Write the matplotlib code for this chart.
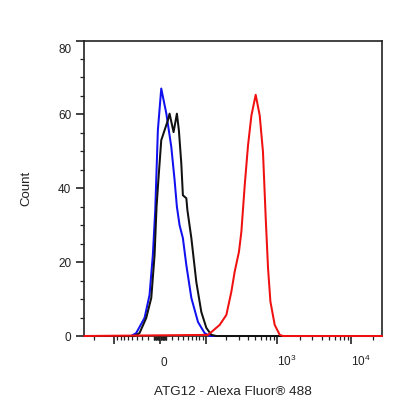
import numpy as np
import matplotlib
matplotlib.use("Agg")
import matplotlib.pyplot as plt
import matplotlib.transforms as mtransforms
from matplotlib.ticker import FixedLocator, FixedFormatter, NullFormatter

plt.rcParams['font.family'] = ['Liberation Sans', 'DejaVu Sans']
plt.rcParams['mathtext.fontset'] = 'custom'
plt.rcParams['mathtext.rm'] = 'Liberation Sans'

# --- histogram traces (channel value, count) ---
blue_x = [-269, -52.6, -41.7, -25.7, -17.1, -11.6, -7.7, -6.1, -3.5, 1.9, 10.0,
          18.3, 24.0, 28.1, 33.1, 39.6, 46.8, 58.3, 75.7, 96.3, 115.0, 26300]
blue_y = [0, 0, 0.8, 4.9, 11.1, 21.9, 34.1, 42.2, 55.7, 67.0, 60.3,
          51.2, 42.2, 35.0, 30.0, 26.5, 19.2, 10.3, 3.8, 0.8, 0, 0]

black_x = [-269, -45.2, -35.0, -22.7, -14.2, -8.8, -5.6, -2.7, 1.9, 7.2, 12.6,
           15.4, 22.2, 28.1, 31.8, 36.4, 39.6, 46.8, 49.1, 58.3, 71.1, 85.7,
           102.5, 121.5, 143.8, 26300]
black_y = [0, 0, 0.8, 4.9, 10.3, 21.9, 35.0, 42.2, 53.0, 55.7, 58.4,
           60.2, 55.2, 60.2, 55.7, 46.8, 38.1, 37.3, 34.1, 26.5, 14.6, 6.5,
           2.2, 0.3, 0, 0]

red_x = [-269, 108.7, 160.6, 199.6, 234.5, 260.7, 298.7, 322.4, 358.4, 397.8,
         442.7, 506.7, 574.7, 637, 694, 746, 804, 920, 1077, 1194, 26300]
red_y = [0, 0.3, 3.0, 5.7, 12.0, 17.4, 22.8, 28.2, 40.8, 51.6,
         59.7, 65.3, 59.7, 49.8, 31.9, 18.4, 9.3, 3.0, 0.3, 0, 0]

x_major = [-100, 0, 100, 1000, 10000]
x_major_labels = ['', '0', '', r'$\mathregular{10^3}$', r'$\mathregular{10^4}$']
x_minor = ([-200] + list(range(-90, -9, 10)) + list(range(-9, 0)) + list(range(1, 10))
           + list(range(10, 91, 10)) + list(range(200, 901, 100))
           + list(range(2000, 9001, 1000)) + [20000])

W = 51.0  # width of the near-linear zone of the display transform


def fwd(x):
    return np.arcsinh(np.asarray(x, dtype=float) / W)


def inv(y):
    return W * np.sinh(np.asarray(y, dtype=float))


fig = plt.figure(figsize=(4.16, 4.16), dpi=100)
ax = fig.add_axes([0.203, 0.1923, 0.715, 0.7103])
ax.set_xscale('function', functions=(fwd, inv))

ax.plot(blue_x, blue_y, color='#1010f0', lw=1.45, zorder=3, clip_on=False)
ax.plot(black_x, black_y, color='#111111', lw=1.45, zorder=3, clip_on=False)
ax.plot(red_x, red_y, color='#f01010', lw=1.45, zorder=3, clip_on=False)

ax.set_xlim(-269, 26300)
ax.set_ylim(0, 80)

ax.xaxis.set_major_locator(FixedLocator(x_major))
ax.xaxis.set_major_formatter(FixedFormatter(x_major_labels))
ax.xaxis.set_minor_locator(FixedLocator(x_minor))
ax.xaxis.set_minor_formatter(NullFormatter())
ax.set_yticks([0, 20, 40, 60, 80])
ax.set_yticks(np.arange(5, 80, 5), minor=True)

for sp in ax.spines.values():
    sp.set_linewidth(1.2)
    sp.set_color('#222222')

ax.tick_params(axis='both', which='major', direction='out', length=6, width=1.2,
               color='#222222', labelsize=8.5, labelcolor='#222222')
ax.tick_params(axis='both', which='minor', direction='out', length=3.2, width=0.9,
               color='#222222')
ax.tick_params(axis='x', which='major', pad=15.5)
ax.tick_params(axis='y', which='major', pad=3.5)

for lbl in ax.get_xticklabels():
    lbl.set_ha('left')
    lbl.set_va('baseline')

# top y label sits a little below its tick, as in the original export
top_lbl = ax.get_yticklabels()[-1]
top_lbl.set_transform(top_lbl.get_transform()
                      + mtransforms.ScaledTranslation(0, -6 / 72, fig.dpi_scale_trans))

fig.text(233 / 416, 1 - 392 / 416, 'ATG12 - Alexa Fluor® 488', ha='center', va='center',
         fontsize=9.7, color='#222222')
fig.text(26 / 416, 1 - 188 / 416, 'Count', ha='center', va='center', rotation=90,
         fontsize=9.5, color='#222222')

fig.savefig('out.png', dpi=100)
